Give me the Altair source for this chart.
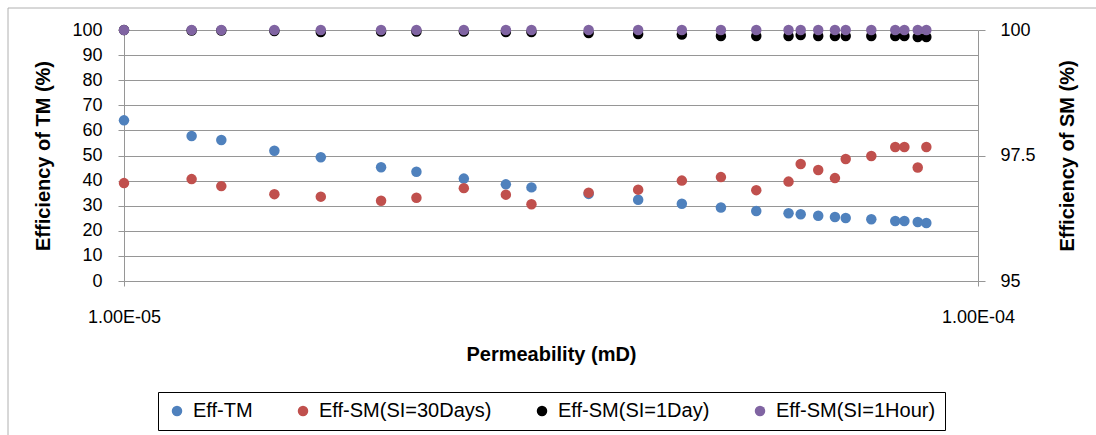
import altair as alt
import pandas as pd

# Permeability of each sample (mD)
PERMEABILITY = [1.0e-5, 1.2e-5, 1.3e-5, 1.5e-5, 1.7e-5, 2.0e-5, 2.2e-5, 2.5e-5, 2.8e-5, 3.0e-5,
                3.5e-5, 4.0e-5, 4.5e-5, 5.0e-5, 5.5e-5, 6.0e-5, 6.2e-5, 6.5e-5, 6.8e-5, 7.0e-5,
                7.5e-5, 8.0e-5, 8.2e-5, 8.5e-5, 8.7e-5]

# Efficiency of TM (%), left axis
EFF_TM = [64.0, 57.8, 56.2, 51.9, 49.3, 45.3, 43.5, 40.8, 38.5, 37.3,
          34.7, 32.4, 30.8, 29.3, 27.9, 27.0, 26.6, 26.0, 25.5, 25.1,
          24.6, 23.9, 23.9, 23.5, 23.1]

# Efficiency of SM (%), right axis
EFF_SM_30DAYS = [96.95, 97.03, 96.89, 96.73, 96.68, 96.60, 96.66, 96.85, 96.72, 96.53,
                 96.76, 96.82, 97.00, 97.07, 96.81, 96.98, 97.33, 97.21, 97.05, 97.43,
                 97.49, 97.67, 97.67, 97.26, 97.67]
EFF_SM_1DAY = [100.00, 99.99, 99.99, 99.98, 99.96, 99.97, 99.97, 99.97, 99.96, 99.96,
               99.94, 99.92, 99.91, 99.88, 99.88, 99.88, 99.90, 99.88, 99.88, 99.88,
               99.88, 99.88, 99.88, 99.86, 99.86]
EFF_SM_1HOUR = [100.0, 100.0, 100.0, 100.0, 100.0, 100.0, 100.0, 100.0, 100.0, 100.0,
                100.0, 100.0, 100.0, 100.0, 100.0, 100.0, 100.0, 100.0, 100.0, 100.0,
                100.0, 100.0, 100.0, 100.0, 100.0]

SERIES = ["Eff-TM", "Eff-SM(SI=30Days)", "Eff-SM(SI=1Day)", "Eff-SM(SI=1Hour)"]
COLORS = ["#4F81BD", "#C0504D", "#000000", "#8064A2"]
SIZES = [110, 110, 52, 52]

X_TICKS = [1e-5, 1e-4]
X_TICK_LABELS = ["1.00E-05", "1.00E-04"]
LEFT_TICKS = [0, 10, 20, 30, 40, 50, 60, 70, 80, 90, 100]
RIGHT_TICKS = [95, 97.5, 100]

FONT = "Liberation Sans"
GRID = "#969696"

tm = pd.DataFrame({"k": PERMEABILITY, "eff": EFF_TM, "series": SERIES[0], "order": 0})
sm = pd.concat([
    pd.DataFrame({"k": PERMEABILITY, "eff": vals, "series": name, "order": i + 1})
    for i, (name, vals) in enumerate(zip(SERIES[1:], [EFF_SM_30DAYS, EFF_SM_1DAY, EFF_SM_1HOUR]))
], ignore_index=True)

x_label_expr = " : ".join(
    f"datum.value < {v * 1.5} ? '{lab}'" for v, lab in zip(X_TICKS[:-1], X_TICK_LABELS[:-1])
) + f" : '{X_TICK_LABELS[-1]}'"

x_enc = alt.X(
    "k:Q",
    scale=alt.Scale(type="log", domain=[X_TICKS[0], X_TICKS[-1]], nice=False),
    axis=alt.Axis(
        title="Permeability (mD)", values=X_TICKS, labelExpr=x_label_expr,
        grid=False, tickSize=5, labelPadding=22, titlePadding=18,
        domainColor=GRID, tickColor=GRID, labelFontSize=18, titleFontSize=20,
        titleFontWeight="bold", labelFlush=False,
    ),
)

color_enc = alt.Color(
    "series:N",
    scale=alt.Scale(domain=SERIES, range=COLORS),
    legend=alt.Legend(
        title=None, orient="none", direction="horizontal",
        legendX=34, legendY=362, strokeColor="#000000", padding=9,
        columnPadding=40, symbolType="circle", symbolSize=60,
        labelFontSize=20, labelFont=FONT, labelColor="#000000", labelOffset=6,
        labelLimit=400, symbolStrokeWidth=0,
    ),
)
size_enc = alt.Size("series:N", scale=alt.Scale(domain=SERIES, range=SIZES), legend=None)

left = alt.Chart(tm).mark_circle(opacity=1).encode(
    x=x_enc,
    y=alt.Y(
        "eff:Q",
        scale=alt.Scale(domain=[0, 100], nice=False),
        axis=alt.Axis(
            title="Efficiency of TM (%)", orient="left", values=LEFT_TICKS,
            tickSize=6, labelPadding=16, titlePadding=18, grid=True, gridColor=GRID,
            domainColor=GRID, tickColor=GRID, labelFontSize=18, titleFontSize=20,
            titleFontWeight="bold", labelFlush=False,
        ),
    ),
    color=color_enc,
    size=size_enc,
)

right = alt.Chart(sm).mark_circle(opacity=1).encode(
    x=x_enc,
    y=alt.Y(
        "eff:Q",
        scale=alt.Scale(domain=[95, 100], nice=False),
        axis=alt.Axis(
            title="Efficiency of SM (%)", orient="right", values=RIGHT_TICKS, format=".1~f",
            tickSize=7, labelPadding=15, titlePadding=22, titleAngle=270,
            titleBaseline="top", grid=False,
            domainColor=GRID, tickColor=GRID, labelFontSize=18, titleFontSize=20,
            titleFontWeight="bold", labelFlush=False,
        ),
    ),
    color=color_enc,
    size=size_enc,
    order=alt.Order("order:Q"),
)

# Outer frame of the chart (top and left edges)
frame = alt.Data(values=[{}])
top_edge = alt.Chart(frame).mark_rule(color="#b0b0b0", strokeWidth=1).encode(
    x=alt.value(-116), x2=alt.value(980), y=alt.value(-22)
)
left_edge = alt.Chart(frame).mark_rule(color="#b0b0b0", strokeWidth=1).encode(
    x=alt.value(-116), y=alt.value(-22), y2=alt.value(410)
)

chart = alt.layer(left, right, top_edge, left_edge).resolve_scale(
    y="independent"
).properties(
    width=854,
    height=251,
    autosize=alt.AutoSizeParams(type="none"),
    padding={"left": 124, "top": 30, "right": 118, "bottom": 154},
    background="white",
).configure(
    font=FONT,
).configure_view(
    stroke=None,
).configure_axis(
    labelColor="#000000",
    titleColor="#000000",
    labelFont=FONT,
    titleFont=FONT,
)

chart.save("out.html", embed_options={"renderer": "svg", "actions": False})
